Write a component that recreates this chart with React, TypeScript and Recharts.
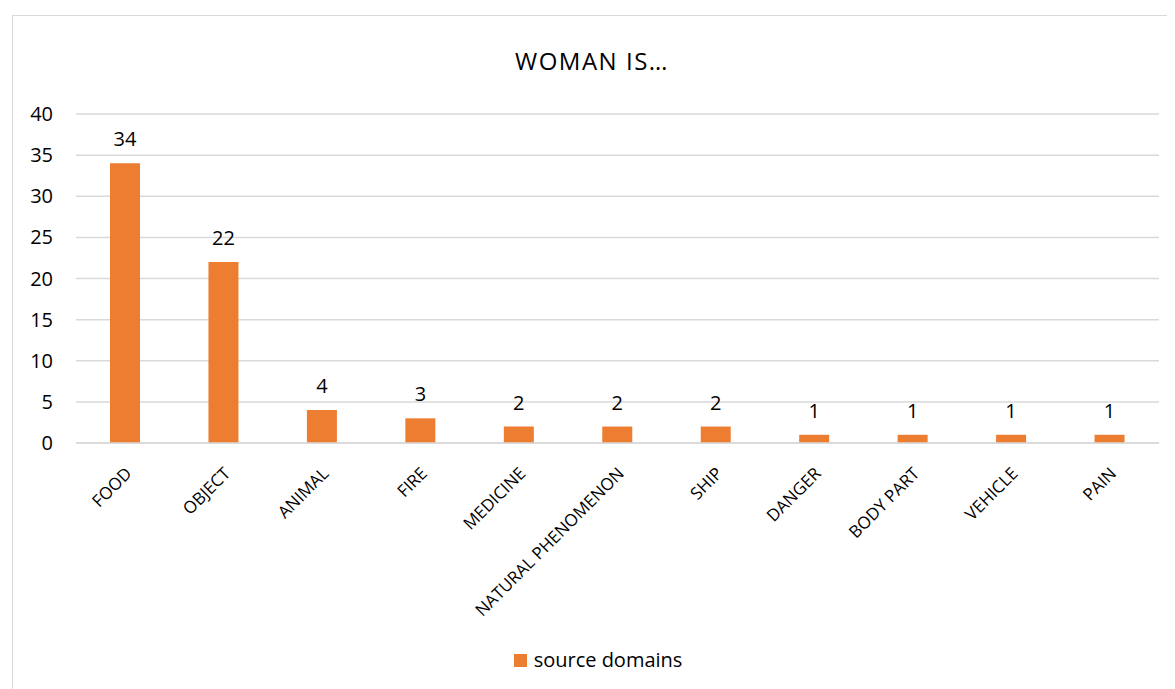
import { Bar, BarChart, CartesianGrid, LabelList, Legend, XAxis, YAxis } from "recharts";

const categories = [
  "FOOD",
  "OBJECT",
  "ANIMAL",
  "FIRE",
  "MEDICINE",
  "NATURAL PHENOMENON",
  "SHIP",
  "DANGER",
  "BODY PART",
  "VEHICLE",
  "PAIN",
];
const sourceDomains = [34, 22, 4, 3, 2, 2, 2, 1, 1, 1, 1];
const yTicks = [0, 5, 10, 15, 20, 25, 30, 35, 40];
const seriesName = "source domains";

const data = categories.map((name, i) => ({ name, value: sourceDomains[i] }));

const FONT = "'Open Sans', 'Noto Sans', sans-serif";
const ORANGE = "#ED7D31";

const CategoryTick = (props: any) => {
  const { x, y, payload } = props;
  const ax = x + 3;
  const ay = y + 19;
  return (
    <text
      x={ax}
      y={ay}
      transform={`rotate(-45, ${ax}, ${ay})`}
      textAnchor="end"
      dominantBaseline="central"
      fontSize={17}
      fontFamily={FONT}
      fill="#000"
    >
      {payload.value}
    </text>
  );
};

const LegendContent = () => (
  <div
    style={{
      display: "flex",
      justifyContent: "center",
      alignItems: "center",
      paddingLeft: 24,
      fontSize: 20,
      fontFamily: FONT,
      color: "#000",
      lineHeight: "26px",
    }}
  >
    <span
      style={{
        display: "inline-block",
        width: 13,
        height: 13,
        background: ORANGE,
        marginRight: 7,
      }}
    />
    <span>{seriesName}</span>
  </div>
);

const App = () => {
  return (
    <div
      style={{
        position: "relative",
        marginLeft: 4,
        marginTop: 7,
        width: 1158,
        height: 688,
        border: "1px solid #d9d9d9",
        background: "#fff",
        fontFamily: FONT,
      }}
    >
      <div
        style={{
          position: "absolute",
          top: 33,
          left: 0,
          width: "100%",
          textAlign: "center",
          fontSize: 24,
          lineHeight: "24px",
          letterSpacing: 1.5,
          color: "#000",
        }}
      >
        WOMAN IS…
      </div>
      <BarChart
        width={1158}
        height={688}
        data={data}
        margin={{ top: 98, right: 12, left: 0, bottom: 31 }}
        barCategoryGap={34}
      >
        <CartesianGrid vertical={false} stroke="#d9d9d9" strokeWidth={1.5} />
        <XAxis
          dataKey="name"
          interval={0}
          tick={<CategoryTick />}
          tickLine={false}
          axisLine={{ stroke: "#d9d9d9", strokeWidth: 1.5 }}
          height={204}
        />
        <YAxis
          domain={[0, 40]}
          ticks={yTicks}
          width={63}
          tickLine={false}
          axisLine={false}
          tick={{ fontSize: 20, fill: "#000", fontFamily: FONT }}
          tickMargin={17}
        />
        <Legend verticalAlign="bottom" content={<LegendContent />} />
        <Bar dataKey="value" name={seriesName} fill={ORANGE} isAnimationActive={false}>
          <LabelList
            dataKey="value"
            position="top"
            offset={17}
            fill="#000"
            fontSize={20}
            fontFamily={FONT}
          />
        </Bar>
      </BarChart>
    </div>
  );
};

export default App;
